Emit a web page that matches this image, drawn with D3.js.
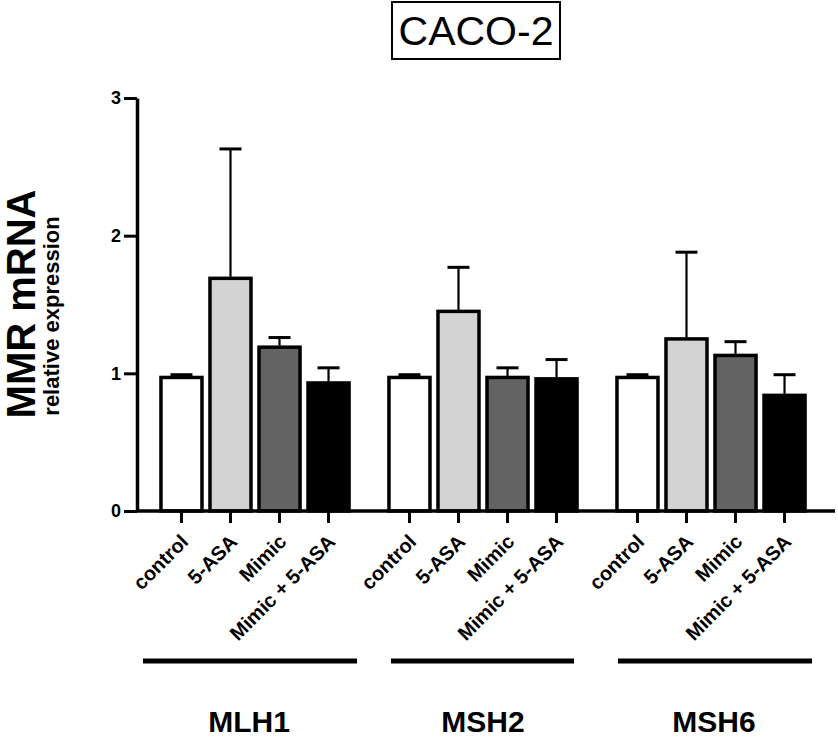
<!DOCTYPE html>
<html>
<head>
<meta charset="utf-8">
<script src="https://cdn.jsdelivr.net/npm/d3@7"></script>
<style>
  body { margin: 0; background: #fff; }
  text { font-family: "Liberation Sans", Arial, sans-serif; }
</style>
</head>
<body>
<svg width="838" height="740"></svg>
<script>
// data
var genes = ["MLH1", "MSH2", "MSH6"];
var treatments = ["control", "5-ASA", "Mimic", "Mimic + 5-ASA"];
var mlh1Mean = [0.97, 1.69, 1.19, 0.93];
var mlh1Err = [0.02, 0.94, 0.07, 0.11];
var msh2Mean = [0.97, 1.45, 0.97, 0.96];
var msh2Err = [0.02, 0.32, 0.07, 0.14];
var msh6Mean = [0.97, 1.25, 1.13, 0.84];
var msh6Err = [0.02, 0.63, 0.10, 0.15];
var yTicks = [0, 1, 2, 3];
var fills = ["#ffffff", "#d3d3d3", "#636363", "#000000"];

var means = [mlh1Mean, msh2Mean, msh6Mean];
var errs = [mlh1Err, msh2Err, msh6Err];

var rows = [];
genes.forEach(function(g, i) {
    treatments.forEach(function(t, j) {
        rows.push({gene: g, treat: t, mean: means[i][j], err: errs[i][j], k: j});
    });
});

var svg = d3.select("svg");

var yScale = d3.scaleLinear()
    .domain([0, 3])
    .range([511, 98]);

var xGene = d3.scaleBand()
    .domain(genes)
    .range([141, 825])
    .paddingInner(0.14)
    .paddingOuter(0.07);

var xTreat = d3.scaleBand()
    .domain(treatments)
    .range([0, xGene.bandwidth()]);

var barW = xTreat.bandwidth() - 8;

// group underline offsets from band edges (left, right), label nudges
var lineOff = [[-14, 4], [6, -7], [5, 3]];
var labelOff = [-6, 0, 3];

// title
svg.append("rect")
    .attr("x", 392).attr("y", 2)
    .attr("width", 168).attr("height", 57)
    .attr("fill", "none").attr("stroke", "#000").attr("stroke-width", 2);
svg.append("text")
    .attr("x", 476).attr("y", 45)
    .attr("text-anchor", "middle")
    .attr("font-size", 41)
    .text("CACO-2");

// bars
var bars = svg.append("g");
bars.selectAll("rect")
    .data(rows)
    .enter()
    .append("rect")
    .attr("x", function(d) { return xGene(d.gene) + xTreat(d.treat) + 4; })
    .attr("y", function(d) { return yScale(d.mean); })
    .attr("width", barW)
    .attr("height", function(d) { return yScale(0) - yScale(d.mean); })
    .attr("fill", function(d) { return fills[d.k]; })
    .attr("stroke", "#000")
    .attr("stroke-width", 3.5);

// error bars (upper only)
function cx(d) { return xGene(d.gene) + xTreat(d.treat) + xTreat.bandwidth() / 2; }
var eb = svg.append("g").attr("stroke", "#000");
eb.selectAll("line.v")
    .data(rows)
    .enter()
    .append("line")
    .attr("class", "v")
    .attr("x1", cx)
    .attr("x2", cx)
    .attr("y1", function(d) { return yScale(d.mean) - 1.5; })
    .attr("y2", function(d) { return yScale(d.mean + d.err); })
    .attr("stroke-width", 2.2);
eb.selectAll("line.c")
    .data(rows)
    .enter()
    .append("line")
    .attr("class", "c")
    .attr("x1", function(d) { return cx(d) - 11; })
    .attr("x2", function(d) { return cx(d) + 11; })
    .attr("y1", function(d) { return yScale(d.mean + d.err); })
    .attr("y2", function(d) { return yScale(d.mean + d.err); })
    .attr("stroke-width", 3);

// y axis
var yAxis = svg.append("g")
    .attr("transform", "translate(137,0)")
    .call(d3.axisLeft(yScale).tickValues(yTicks).tickFormat(d3.format("d"))
        .tickSize(13).tickSizeOuter(0).tickPadding(3));
yAxis.select(".domain").attr("stroke-width", 3.5);
yAxis.selectAll(".tick line").attr("stroke-width", 3);
yAxis.selectAll(".tick text")
    .attr("font-family", "Liberation Sans, Arial, sans-serif")
    .attr("font-weight", "bold")
    .attr("font-size", 18)
    .attr("fill", "#000");

// x baseline
svg.append("line")
    .attr("x1", 137).attr("x2", 835)
    .attr("y1", yScale(0)).attr("y2", yScale(0))
    .attr("stroke", "#000").attr("stroke-width", 3.5);

// x axis per gene
genes.forEach(function(g, i) {
    var ax = svg.append("g")
        .attr("transform", "translate(" + xGene(g) + "," + yScale(0) + ")")
        .call(d3.axisBottom(xTreat).tickSize(12).tickSizeOuter(0));
    ax.select(".domain").remove();
    ax.selectAll(".tick line").attr("stroke-width", 3);
    ax.selectAll(".tick text")
        .attr("font-family", "Liberation Sans, Arial, sans-serif")
        .attr("font-weight", "bold")
        .attr("font-size", 20)
        .attr("fill", "#000")
        .attr("text-anchor", "end")
        .attr("dy", null)
        .attr("y", 0)
        .attr("transform", "translate(8,32) rotate(-45)");

    svg.append("line")
        .attr("x1", xGene(g) + lineOff[i][0])
        .attr("x2", xGene(g) + xGene.bandwidth() + lineOff[i][1])
        .attr("y1", 661).attr("y2", 661)
        .attr("stroke", "#000").attr("stroke-width", 5);
    svg.append("text")
        .attr("x", xGene(g) + xGene.bandwidth() / 2 + labelOff[i])
        .attr("y", 732)
        .attr("text-anchor", "middle")
        .attr("font-weight", "bold")
        .attr("font-size", 30)
        .text(g);
});

// y title
svg.append("text")
    .attr("transform", "translate(35,304) rotate(-90)")
    .attr("text-anchor", "middle")
    .attr("font-weight", "bold")
    .attr("font-size", 40)
    .text("MMR mRNA");
svg.append("text")
    .attr("transform", "translate(59,316) rotate(-90)")
    .attr("text-anchor", "middle")
    .attr("font-weight", "bold")
    .attr("font-size", 22)
    .text("relative expression");
</script>
</body>
</html>
